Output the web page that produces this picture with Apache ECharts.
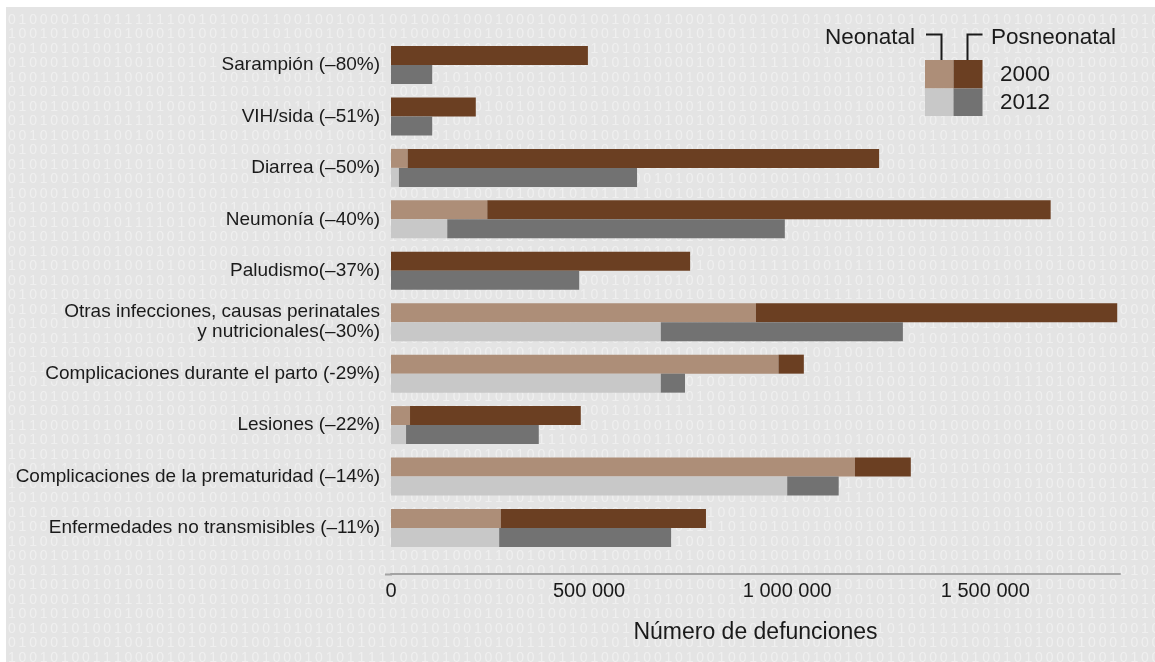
<!DOCTYPE html>
<html lang="es">
<head>
<meta charset="utf-8">
<title>Defunciones de menores de cinco años por causa, 2000 y 2012</title>
<script src="https://cdn.jsdelivr.net/npm/echarts@6/dist/echarts.min.js"></script>
<style>
  html, body { margin: 0; padding: 0; background: #ffffff; }
  #chart { width: 1155px; height: 662px; }
</style>
</head>
<body>
<div id="chart"></div>
<script>
// Causes of death (label includes the 2000–2012 change)
const causes = [
  'Sarampión (–80%)',
  'VIH/sida (–51%)',
  'Diarrea (–50%)',
  'Neumonía (–40%)',
  'Paludismo(–37%)',
  'Otras infecciones, causas perinatales\ny nutricionales(–30%)',
  'Complicaciones durante el parto (-29%)',
  'Lesiones (–22%)',
  'Complicaciones de la prematuridad (–14%)',
  'Enfermedades no transmisibles (–11%)'
];

// Deaths, year 2000
const neonatal2000    = [0, 0, 42000, 243000, 0, 921000, 978000, 48000, 1171000, 277000];
const posneonatal2000 = [497000, 214000, 1190000, 1422000, 755000, 912000, 64000, 431000, 141000, 518000];

// Deaths, year 2012
const neonatal2012    = [0, 0, 20000, 142000, 0, 681000, 681000, 38000, 1000000, 273000];
const posneonatal2012 = [104000, 104000, 601000, 852000, 475000, 611000, 61000, 335000, 130000, 434000];

// Axis settings
const axisMax = 1840000;
const axisStep = 500000;

// Legend text
const legendNeonatal = 'Neonatal';
const legendPosneonatal = 'Posneonatal';
const years = ['2000', '2012'];
const axisTitle = 'Número de defunciones';

// Binary strings used for the background texture
const bitRows = [
  '0100001010111111001010001100100100110010',
  '1101000100101001001000101001010101000101',
  '0101000010100100100101001010010100101001',
  '0010001000100010010010100010100100101010',
  '0010100001001010010001001010100101001110',
  '0101010100110101001000010101010010101001',
  '1001001000101010100010101001011110100101',
  '0001010100101000101011111001010100010010'
];

const COLORS = {
  neo2000: '#ad8e78',
  pos2000: '#6b3f22',
  neo2012: '#c8c8c8',
  pos2012: '#727272',
  bg: '#e4e4e4',
  bits: '#efefef',
  text: '#1a1a1a'
};
const FONT = '"Liberation Sans", Arial, Helvetica, sans-serif';

function formatThousands(v) {
  return String(v).replace(/\B(?=(\d{3})+(?!\d))/g, ' ');
}

// Background panel with rows of binary digits
const texture = [];
texture.push({
  type: 'rect', silent: true, z: -20,
  shape: { x: 6, y: 7, width: 1155 - 6, height: 662 - 7 },
  style: { fill: COLORS.bg }
});
for (let r = 0; r < 46; r++) {
  const base = bitRows[r % 8] + bitRows[(r + 3) % 8] + bitRows[(r + 5) % 8];
  const shift = (r * 7) % 40;
  const line = (base.slice(shift) + base.slice(0, shift)).split('').join('\u2009');
  texture.push({
    type: 'text', silent: true, z: -19,
    x: 8, y: 13 + r * 14.5,
    style: {
      text: line, fill: COLORS.bits,
      font: '14px ' + FONT, verticalAlign: 'top', align: 'left'
    }
  });
}

// Baseline under the bars, slightly extended to the left of zero
texture.push({
  type: 'line', silent: true, z: -18,
  shape: { x1: 385, y1: 574.5, x2: 392, y2: 574.5 },
  style: { stroke: '#a3a3a3', lineWidth: 2 }
});

// Legend block (colour key with brackets)
const halo = { stroke: COLORS.bg, lineWidth: 6 };
const legend = [
  { type: 'rect', z: 10, shape: { x: 925, y: 60, width: 28.5, height: 28.5 }, style: { fill: COLORS.neo2000 } },
  { type: 'rect', z: 10, shape: { x: 953.5, y: 60, width: 29, height: 28.5 }, style: { fill: COLORS.pos2000 } },
  { type: 'rect', z: 10, shape: { x: 925, y: 88.5, width: 28.5, height: 27.5 }, style: { fill: COLORS.neo2012 } },
  { type: 'rect', z: 10, shape: { x: 953.5, y: 88.5, width: 29, height: 27.5 }, style: { fill: COLORS.pos2012 } },
  { type: 'polyline', z: 10, shape: { points: [[926, 34.5], [941.5, 34.5], [941.5, 60]] },
    style: { stroke: COLORS.text, lineWidth: 2, fill: null } },
  { type: 'polyline', z: 10, shape: { points: [[982.5, 34.5], [967.5, 34.5], [967.5, 60]] },
    style: { stroke: COLORS.text, lineWidth: 2, fill: null } },
  { type: 'text', z: 10, x: 915, y: 38,
    style: Object.assign({ text: legendNeonatal, font: '22.5px ' + FONT, fill: COLORS.text, align: 'right', verticalAlign: 'middle' }, halo) },
  { type: 'text', z: 10, x: 991, y: 38,
    style: Object.assign({ text: legendPosneonatal, font: '22.5px ' + FONT, fill: COLORS.text, align: 'left', verticalAlign: 'middle' }, halo) },
  { type: 'text', z: 10, x: 1000, y: 74.5,
    style: Object.assign({ text: years[0], font: '22.5px ' + FONT, fill: COLORS.text, align: 'left', verticalAlign: 'middle' }, halo) },
  { type: 'text', z: 10, x: 1000, y: 102.5,
    style: Object.assign({ text: years[1], font: '22.5px ' + FONT, fill: COLORS.text, align: 'left', verticalAlign: 'middle' }, halo) }
];

function barSeries(name, stack, data, color) {
  return {
    name, type: 'bar', stack, data,
    barWidth: 19, barGap: '0%',
    itemStyle: { color },
    emphasis: { disabled: true },
    silent: true, z: 2
  };
}

const chart = echarts.init(document.getElementById('chart'), null, { renderer: 'canvas' });
chart.setOption({
  animation: false,
  backgroundColor: '#ffffff',
  textStyle: { fontFamily: FONT },
  grid: {
    left: 391, right: 35, top: 39.3, bottom: 108.3,
    containLabel: false, outerBoundsMode: 'none'
  },
  xAxis: {
    type: 'value',
    min: 0, max: axisMax, interval: axisStep,
    offset: 20.5,
    axisLine: { show: true, lineStyle: { color: '#a3a3a3', width: 2 } },
    axisTick: { show: false },
    splitLine: { show: false },
    axisLabel: {
      show: true, margin: 7, showMaxLabel: false,
      color: COLORS.text, fontSize: 20, fontFamily: FONT,
      formatter: formatThousands
    },
    name: axisTitle,
    nameLocation: 'middle',
    nameGap: 47,
    nameTextStyle: { color: COLORS.text, fontSize: 23, fontFamily: FONT }
  },
  yAxis: {
    type: 'category',
    data: causes,
    inverse: true,
    axisLine: { show: false },
    axisTick: { show: false },
    splitLine: { show: false },
    axisLabel: {
      margin: 11, color: COLORS.text, fontSize: 19, lineHeight: 20,
      fontFamily: FONT, align: 'right',
      textBorderColor: COLORS.bg, textBorderWidth: 5
    }
  },
  graphic: { elements: texture.concat(legend) },
  series: [
    barSeries('Neonatal 2000', 'y2000', neonatal2000, COLORS.neo2000),
    barSeries('Posneonatal 2000', 'y2000', posneonatal2000, COLORS.pos2000),
    barSeries('Neonatal 2012', 'y2012', neonatal2012, COLORS.neo2012),
    barSeries('Posneonatal 2012', 'y2012', posneonatal2012, COLORS.pos2012)
  ]
});
</script>
</body>
</html>
